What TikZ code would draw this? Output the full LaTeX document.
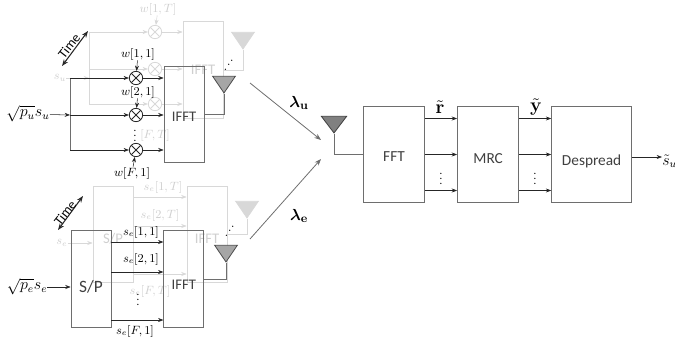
\documentclass[tikz,border=0pt]{standalone}
\usepackage{amsmath}
\usepackage{amssymb}
\usepackage[no-math]{fontspec}
\setmainfont{Carlito}
\usepackage{xcolor}
\usepackage{tikz}
\usetikzlibrary{shapes.geometric, arrows.meta, positioning, calc}
\definecolor{boxgray}{HTML}{6E6E6E}
\definecolor{ghostgray}{HTML}{D8D8D8}
\definecolor{ghosttext}{HTML}{CFCFCF}

\begin{document}
\begin{tikzpicture}[
  x=0.75pt, y=-0.75pt,
  block/.style={rectangle, draw=boxgray, semithick, text=black!75,
    minimum width=30pt, minimum height=72.5pt, inner sep=0pt, font=\fontsize{11}{11}\selectfont},
  ghostblock/.style={block, draw=ghostgray, text=ghosttext},
  rxblock/.style={block, minimum width=46pt, font=\fontsize{11.5}{11.5}\selectfont},
  sig/.style={-{Stealth[length=4pt]}, black!85},
  ghostsig/.style={-{Stealth[length=4pt]}, ghostgray},
  line/.style={boxgray, semithick},
  ghostline/.style={ghostgray, semithick},
  crossed/.style={circle, draw=#1, semithick, minimum size=10pt, inner sep=0pt,
    path picture={\draw[#1, semithick] (path picture bounding box.north west) -- (path picture bounding box.south east)
      (path picture bounding box.north east) -- (path picture bounding box.south west);}},
  mixer/.style={crossed=black!85},
  ghostmixer/.style={crossed=ghostgray},
  antenna/.style={isosceles triangle, isosceles triangle stretches, shape border rotate=-90,
    minimum width=17pt, minimum height=12.5pt, inner sep=0pt, anchor=apex, draw=black!70, semithick, fill=black!35},
  ghostantenna/.style={antenna, draw=ghostgray, fill=ghostgray},
  lbl/.style={font=\small, inner sep=0pt},
  ghostlbl/.style={lbl, text=ghosttext},
  dotslbl/.style={font=\footnotesize, inner sep=0pt},
  timelbl/.style={lbl, font=\normalsize, rotate=52},
  biglbl/.style={lbl, font=\fontsize{13}{13}\selectfont},
  timearrow/.style={{Stealth[length=5pt]}-{Stealth[length=5pt]}, thick, black!85},
  bigarrow/.style={-{Stealth[length=5pt]}, boxgray, semithick}
]
  \useasboundingbox (0,0) rectangle (675,347);

  % back layer, upper chain
  \node[ghostblock] (ifftub) at (203,70) {IFFT};
  \node[ghostmixer] (mxub1) at (155,32) {};
  \node[ghostmixer] (mxub2) at (155,69) {};
  \node[ghostmixer] (mxub3) at (155,104) {};
  \node[ghostlbl] (wub) at (158,9) {$w[1,T]$};
  \node[ghostlbl] (wfb) at (155,135) {$[F,T]$};
  \node[ghostlbl] (sub) at (60,78) {$s_u$};
  \node[ghostantenna] (txub) at (243,50) {};
  \coordinate (splub) at (89,78);
  \coordinate (splub1) at (89,32);
  \coordinate (splub3) at (89,104);
  \draw[ghostline] (splub1) -- (splub3);
  \draw[ghostsig] (sub) -- (splub);
  \draw[ghostsig] (splub1) -- (mxub1);
  \draw[ghostsig] (splub) |- (mxub2);
  \draw[ghostsig] (splub3) -- (mxub3);
  \draw[ghostsig] (mxub1) -- (mxub1 -| ifftub.west);
  \draw[ghostsig] (mxub2) -- (mxub2 -| ifftub.west);
  \draw[ghostsig] (mxub3) -- (mxub3 -| ifftub.west);
  \draw[ghostsig] (wub) -- (mxub1);
  \draw[ghostline] (txub.apex) |- (ifftub.east);

  % front layer, upper chain
  \node[block, text height=11pt] (ifftu) at (184,114.5) {IFFT};
  \node[mixer] (mxu1) at (136,78) {};
  \node[mixer] (mxu2) at (136,115) {};
  \node[mixer] (mxu3) at (136,150) {};
  \node[lbl] (wu1) at (138,54) {$w[1,1]$};
  \node[lbl] (wu2) at (138,92) {$w[2,1]$};
  \node[lbl] (wu3) at (132,173) {$w[F,1]$};
  \node[dotslbl] (dotsu) at (135,132) {$\vdots$};
  \node[lbl, font=\large] (inu) at (28,114) {$\sqrt{p_u}s_u$};
  \node[antenna] (txu) at (224,94) {};
  \node[dotslbl, rotate=-35] (dotstxu) at (231,62) {$\vdots$};
  \coordinate (splu) at (70,115);
  \coordinate (splu1) at (70,78);
  \coordinate (splu3) at (70,150);
  \draw[sig] (inu) -- (splu);
  \draw[line] (splu1) -- (splu3);
  \draw[sig] (splu1) -- (mxu1);
  \draw[sig] (splu) -- (mxu2);
  \draw[sig] (splu3) -- (mxu3);
  \draw[sig] (mxu1) -- (mxu1 -| ifftu.west);
  \draw[sig] (mxu2) -- (mxu2 -| ifftu.west);
  \draw[sig] (mxu3) -- (mxu3 -| ifftu.west);
  \draw[sig] (wu1) -- (mxu1);
  \draw[sig] (wu2) -- (mxu2);
  \draw[sig] (wu3) -- (mxu3);
  \draw[line] (txu.apex) |- (ifftu.east);
  \coordinate (timeu1) at (62,66);
  \coordinate (timeu2) at (88,31);
  \draw[timearrow] (timeu1) -- (timeu2);
  \node[timelbl] (timeu) at (69,46) {Time};

  % back layer, lower chain
  \node[ghostblock, text height=14pt] (spb) at (113,234.5) {S/P};
  \node[ghostblock, text height=13pt] (iffteb) at (207,234.5) {IFFT};
  \node[ghostlbl] (seb) at (62,243) {$s_e$};
  \node[ghostlbl] (seb1) at (163,187) {$s_e[1,T]$};
  \node[ghostlbl] (seb2) at (160,215) {$s_e[2,T]$};
  \node[ghostlbl] (seb3) at (150,291) {$s_e[F,T]$};
  \node[ghostantenna] (txeb) at (247,219) {};
  \draw[ghostsig] (seb) -- (seb -| spb.west);
  \draw[ghostsig] (spb.east |- 0,197) -- (iffteb.west |- 0,197);
  \draw[ghostsig] (spb.east |- 0,226) -- (iffteb.west |- 0,226);
  \draw[ghostsig] (spb.east |- 0,274) -- (iffteb.west |- 0,274);
  \draw[ghostline] (txeb.apex) |- (iffteb.east);

  % front layer, lower chain
  \node[block, font=\fontsize{13}{13}\selectfont, text height=21pt] (sp) at (91,279) {S/P};
  \node[block, text height=16pt] (iffte) [right=39pt of sp] {IFFT};
  \node[lbl] (se1) at (141,232) {$s_e[1,1]$};
  \node[lbl] (se2) at (141,259) {$s_e[2,1]$};
  \node[lbl] (se3) at (135,331) {$s_e[F,1]$};
  \node[dotslbl] (dotse) at (138,296) {$\vdots$};
  \node[lbl, font=\large] (ine) at (27,287) {$\sqrt{p_e}s_e$};
  \node[antenna] (txe) at (226,263) {};
  \node[dotslbl, rotate=-35] (dotstxe) at (232,228) {$\vdots$};
  \draw[sig] (ine) -- (ine -| sp.west);
  \draw[sig] (sp.east |- 0,242) -- (iffte.west |- 0,242);
  \draw[sig] (sp.east |- 0,272) -- (iffte.west |- 0,272);
  \draw[sig] (sp.east |- 0,320) -- (iffte.west |- 0,320);
  \draw[line] (txe.apex) |- (iffte.east);
  \coordinate (timee1) at (58,230);
  \coordinate (timee2) at (83,196);
  \draw[timearrow] (timee1) -- (timee2);
  \node[timelbl] (timee) at (65,213) {Time};

  % channel
  \coordinate (chu1) at (250,83);
  \coordinate (chu2) at (321,140);
  \coordinate (che1) at (250,239);
  \coordinate (che2) at (321,159);
  \draw[bigarrow] (chu1) -- (chu2);
  \draw[bigarrow] (che1) -- (che2);
  \node[biglbl] (lamu) at (299,103) {$\boldsymbol{\lambda}_{\mathbf{u}}$};
  \node[biglbl] (lame) at (299,216) {$\boldsymbol{\lambda}_{\mathbf{e}}$};

  % receiver
  \node[rxblock, text height=11pt] (fft) at (394,154.5) {FFT};
  \node[rxblock, right=24pt of fft, text height=14pt] (mrc) {MRC};
  \node[rxblock, right=24pt of mrc, minimum width=60pt, text height=18pt] (despread) {Despread};
  \node[antenna, minimum width=19pt, draw=black!75, fill=black!50] (rx) at (334,134) {};
  \draw[line] (rx.apex) |- (fft.west);
  \draw[sig] ([yshift=27pt]fft.east) -- ([yshift=27pt]mrc.west);
  \draw[sig] (fft.east) -- (mrc.west);
  \draw[sig] ([yshift=-27pt]fft.east) -- ([yshift=-27pt]mrc.west);
  \draw[sig] ([yshift=27pt]mrc.east) -- ([yshift=27pt]despread.west);
  \draw[sig] (mrc.east) -- (despread.west);
  \draw[sig] ([yshift=-27pt]mrc.east) -- ([yshift=-27pt]despread.west);
  \node[dotslbl] (dotsr) at (441,175) {$\vdots$};
  \node[dotslbl] (dotsy) at (535,175) {$\vdots$};
  \node[lbl, font=\Large] (rt) at (440,107) {$\tilde{\mathbf{r}}$};
  \node[lbl, font=\Large] (yt) at (536,107) {$\tilde{\mathbf{y}}$};
  \node[lbl, anchor=west, font=\large] (shat) at (662,161) {$\tilde{s}_u$};
  \draw[sig] (despread.east |- 0,157) -- (shat.west |- 0,157);
\end{tikzpicture}
\end{document}
